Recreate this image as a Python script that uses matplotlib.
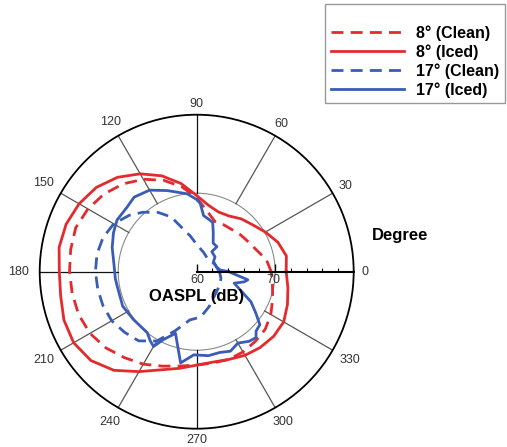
import numpy as np
import matplotlib
matplotlib.use("Agg")
import matplotlib.pyplot as plt

plt.rcParams['font.family'] = ['Liberation Sans', 'DejaVu Sans']

# OASPL directivity (dB), angle in degrees
ang_8_iced = [0, 10, 20, 30, 40, 50, 60, 70, 80, 90, 100, 110, 120, 130, 140, 150, 160, 170,
              180, 190, 200, 210, 220, 230, 240, 250, 260, 270, 280, 290, 300, 310, 320, 330, 340, 350]
spl_8_iced = [71.4, 71.6, 71.0, 70.1, 69.3, 68.8, 68.2, 68.1, 68.6, 69.7, 71.4, 73.0, 74.4, 75.7,
              76.7, 77.3, 77.7, 77.8, 77.5, 77.6, 78.0, 78.1, 77.6, 76.4, 74.7, 73.3, 72.5, 71.9,
              71.7, 71.9, 72.3, 72.6, 72.8, 72.8, 72.3, 71.8]

ang_8_clean = [0, 10, 20, 30, 40, 50, 60, 70, 80, 90, 100, 110, 120, 130, 140, 150, 160, 170,
               180, 190, 200, 210, 220, 230, 240, 250, 260, 270, 280, 290, 300, 310, 320, 330, 340, 350]
spl_8_clean = [69.5, 69.0, 68.1, 67.6, 67.3, 67.0, 66.9, 66.8, 67.8, 69.4, 71.0, 72.4, 73.6, 74.6,
               75.4, 76.0, 76.4, 76.3, 76.2, 76.1, 76.0, 75.7, 75.1, 74.3, 73.6, 72.8, 72.2, 71.9,
               71.8, 71.9, 71.8, 71.6, 71.4, 70.9, 70.3, 69.8]

ang_17_clean = [0, 20, 40, 53, 70, 89, 100, 108, 115, 123, 132, 140, 150, 160, 170, 180, 190,
                200, 210, 220, 230, 240, 250, 262, 275, 290, 310, 330, 345]
spl_17_clean = [62.9, 62.5, 62.3, 62.2, 62.6, 63.4, 64.6, 65.8, 67.7, 69.0, 70.2, 71.2, 72.2,
                72.7, 72.9, 72.9, 72.8, 72.7, 72.5, 72.0, 71.5, 70.2, 68.0, 66.2, 65.8, 64.7,
                63.7, 63.4, 63.2]

ang_17_iced = [0.5, 4, 14, 31, 39, 53, 51, 60, 67, 72, 76, 83, 87, 90, 97, 110, 120, 130, 137,
               147, 155, 164, 172, 185, 190, 205, 217, 231, 236, 240, 244, 251, 260, 268, 278,
               286, 293, 300, 307, 312, 315, 320, 325, 331, 343, 348, 351]
spl_17_iced = [64.0, 63.0, 62.6, 62.5, 63.0, 63.2, 64.1, 64.2, 65.4, 66.6, 66.8, 67.2, 68.7,
               69.2, 70.0, 71.0, 72.0, 72.4, 72.1, 72.1, 71.7, 71.2, 70.7, 70.4, 70.3, 70.4,
               70.1, 70.0, 70.6, 71.0, 69.6, 68.3, 71.8, 70.6, 70.8, 70.7, 71.0, 70.5, 71.1,
               71.3, 70.7, 70.5, 69.2, 67.9, 65.0, 66.2, 66.6]

theta_ticks = [0, 30, 60, 90, 120, 150, 180, 210, 240, 270, 300, 330]
theta_labels = ['0', '30', '60', '90', '120', '150', '180', '210', '240', '270', '300', '330']

red = '#e42a2e'
blue = '#3a5cb6'


def closed(a, v):
    a = np.deg2rad(list(a) + [a[0] + 360])
    return a, list(v) + [v[0]]


fig = plt.figure(figsize=(5.07, 4.47), dpi=100)
rect = [0.0783, 0.0409, 0.6193, 0.7025]
ax = fig.add_axes(rect, projection='polar')
ax.set_ylim(60, 80)
ax.set_yticks([])
ax.grid(False)
ax.spines['polar'].set_linewidth(1.3)

ax.set_xticks(np.deg2rad(theta_ticks))
ax.set_xticklabels([])
ax.set_xticks(np.deg2rad(np.arange(0, 360, 5)), minor=True)
ax.tick_params(axis='x', which='minor', direction='in', length=4, width=0.8)
ax.tick_params(axis='x', which='major', length=0)

# angle labels just outside the rim, pushed further out sideways for wider labels
for d, lbl in zip(theta_ticks, theta_labels):
    t = np.deg2rad(d)
    off = 11 + abs(np.cos(t)) * max(0, 6 * (len(lbl) - 1) - 2)
    ax.annotate(lbl, xy=(t, 80), xytext=(off * np.cos(t), off * np.sin(t)),
                textcoords='offset pixels', ha='center', va='center',
                fontsize=9, color='#333333', annotation_clip=False)

# ring at 70 dB and spokes from the ring to the rim
ring = np.linspace(0, 2 * np.pi, 361)
ax.plot(ring, np.full_like(ring, 70), color='#8a8a8a', lw=0.8)
for d in range(30, 360, 30):
    c = '#111111' if d in (90, 180, 270) else '#555555'
    ax.plot([np.deg2rad(d)] * 2, [70, 80], color=c, lw=0.9)

dash = (4.3, 2.6)
l1, = ax.plot(*closed(ang_8_clean, spl_8_clean), color=red, lw=2.0, dashes=dash, label='8° (Clean)')
l2, = ax.plot(*closed(ang_8_iced, spl_8_iced), color=red, lw=2.0, label='8° (Iced)')
l3, = ax.plot(*closed(ang_17_clean, spl_17_clean), color=blue, lw=2.0, dashes=dash, label='17° (Clean)')
l4, = ax.plot(*closed(ang_17_iced, spl_17_iced), color=blue, lw=2.0, label='17° (Iced)')

# radial axis drawn along 0 deg
ax2 = fig.add_axes(rect)
ax2.set_xlim(-20, 20)
ax2.set_ylim(-20, 20)
ax2.axis('off')
ax2.plot([0, 20], [0, 0], color='black', lw=1.5)
minor = [r for r in range(0, 21, 2) if r % 10]
ax2.vlines(minor, 0, 0.5, color='black', lw=0.8)
ax2.vlines([0, 10, 20], 0, 0.95, color='black', lw=1.0)
ax2.text(0.1, -1.1, '60', ha='center', va='center', fontsize=9, color='#333333')
ax2.text(9.8, -1.1, '70', ha='center', va='center', fontsize=9, color='#333333')
ax2.text(0, -3.2, 'OASPL (dB)', ha='center', va='center', fontsize=12, fontweight='bold')

fig.text(372 / 507, 1 - 235 / 447, 'Degree', ha='left', va='center', fontsize=12, fontweight='bold')

leg = fig.legend([l1, l2, l3, l4], [l.get_label() for l in (l1, l2, l3, l4)],
                 loc='upper right', bbox_to_anchor=(505 / 507, 1 - 4 / 447), borderaxespad=0,
                 fancybox=False, edgecolor='#999999', framealpha=1,
                 prop={'weight': 'bold', 'size': 11.5}, handlelength=4.6, handletextpad=0.75,
                 labelspacing=0.22, borderpad=0.35, title=' ', title_fontsize=8.5)
leg.get_frame().set_linewidth(1.0)

fig.savefig('out.png', dpi=100)
